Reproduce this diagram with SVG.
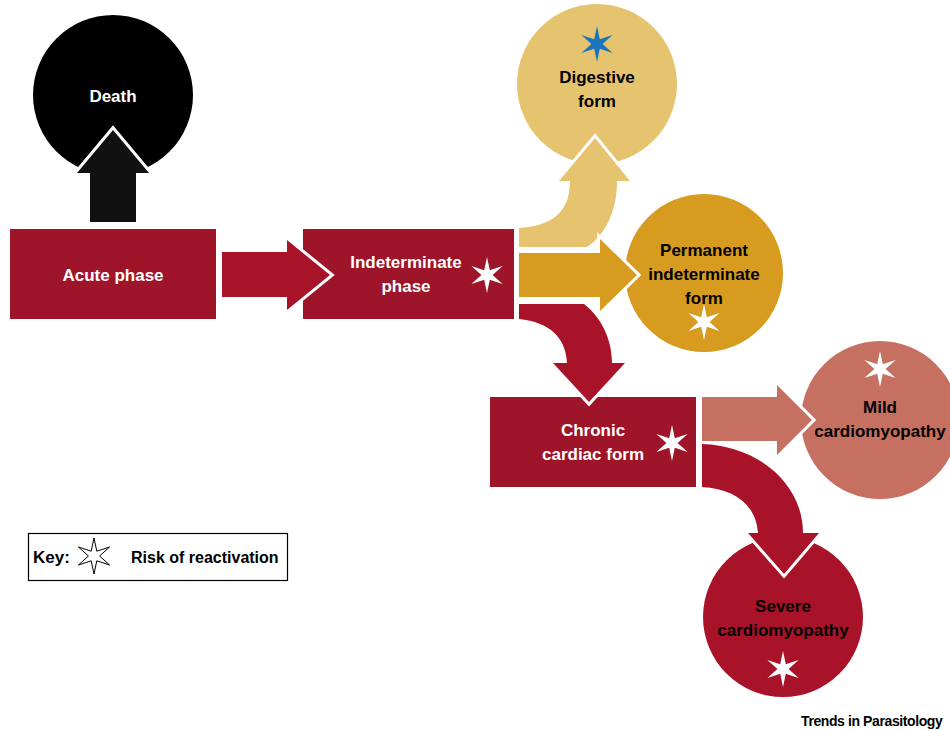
<svg xmlns="http://www.w3.org/2000/svg" width="950" height="730" viewBox="0 0 950 730">
  <defs>
    <style>
      .lbl { font-family: "Liberation Sans", Arial, sans-serif; font-weight: bold; font-size: 17px; text-anchor: middle; }
      .w { fill: #ffffff; }
      .k { fill: #000000; }
      .arrow { stroke: #ffffff; stroke-width: 6; stroke-linejoin: miter; paint-order: stroke; }
      .box { fill: #9E1428; }
    </style>
    <path id="star" d="M0,-18 L2.8,-4.8 L15.59,-9 L5.6,0 L15.59,9 L2.8,4.8 L0,18 L-2.8,4.8 L-15.59,9 L-5.6,0 L-15.59,-9 L-2.8,-4.8 Z"/>
  </defs>
  <rect width="950" height="730" fill="#ffffff"/>

  <g id="death">
    <circle cx="113" cy="95" r="80" fill="#000000"/>
    <text class="lbl w" x="113" y="102">Death</text>
  </g>

  <g id="acute">
    <rect class="box" x="10" y="229" width="206" height="90"/>
    <text class="lbl w" x="113" y="281">Acute phase</text>
  </g>

  <g id="indeterminate">
    <rect class="box" x="303" y="229" width="211" height="90"/>
    <text class="lbl w" x="406" y="268">Indeterminate</text>
    <text class="lbl w" x="406" y="292">phase</text>
    <use href="#star" x="487" y="275" fill="#ffffff"/>
  </g>

  <g id="digestive">
    <circle cx="597" cy="84" r="80" fill="#E6C36E"/>
    <use href="#star" x="597" y="44" fill="#1B75BC"/>
    <text class="lbl k" x="597" y="83">Digestive</text>
    <text class="lbl k" x="597" y="107">form</text>
  </g>

  <g id="permanent">
    <circle cx="704" cy="273" r="79" fill="#D69B1F"/>
    <text class="lbl k" x="704" y="256">Permanent</text>
    <text class="lbl k" x="704" y="280">indeterminate</text>
    <text class="lbl k" x="704" y="304">form</text>
    <use href="#star" x="704" y="322" fill="#ffffff"/>
  </g>

  <g id="chronic">
    <rect class="box" x="490" y="397" width="206" height="90"/>
    <text class="lbl w" x="593" y="436">Chronic</text>
    <text class="lbl w" x="593" y="460">cardiac form</text>
    <use href="#star" x="672" y="443" fill="#ffffff"/>
  </g>

  <g id="mild">
    <circle cx="880" cy="420" r="79" fill="#C67062"/>
    <use href="#star" x="880" y="369" fill="#ffffff"/>
    <text class="lbl k" x="880" y="413">Mild</text>
    <text class="lbl k" x="880" y="437">cardiomyopathy</text>
  </g>

  <g id="severe">
    <circle cx="783" cy="617" r="80" fill="#A91329"/>
    <text class="lbl k" x="783" y="612">Severe</text>
    <text class="lbl k" x="783" y="636">cardiomyopathy</text>
    <use href="#star" x="783" y="669" fill="#ffffff"/>
  </g>

  <g id="connectors">
    <path class="arrow" fill="#111111" d="M90,222 L90,173 L77,173 L113,130 L149,173 L136,173 L136,222 Z"/>
    <path class="arrow" fill="#A91329" d="M222,252 L287,252 L287,240 L330,275 L287,310 L287,297 L222,297 Z"/>
    <path class="arrow" fill="#E6C36E" d="M519,228 C550,226 570,214 570,181 L559,181 L595,138 L630,181 L617,181 C617,212 605,235 587,247 L519,247 Z"/>
    <path class="arrow" fill="#D69B1F" d="M519,253 L600,253 L600,239 L637,275 L600,311 L600,297 L519,297 Z"/>
    <path class="arrow" fill="#A91329" d="M519,304 L584,304 C602,318 612,340 612,363 L625,363 L589,402 L553,363 L567,363 C566,338 550,322 519,319 Z"/>
    <path class="arrow" fill="#C67062" d="M702,397 L777,397 L777,385 L812,420 L777,455 L777,441 L702,441 Z"/>
    <path class="arrow" fill="#A91329" d="M702,444 C760,446 803,485 803,533 L819,533 L784,574 L748,533 L758,533 C756,505 735,489 702,487 Z"/>
  </g>

  <g id="key">
    <rect x="28.5" y="533.5" width="259" height="47" fill="#ffffff" stroke="#000000" stroke-width="1.2"/>
    <text x="33" y="563" style="font-family: 'Liberation Sans', Arial, sans-serif; font-weight: bold; font-size: 17px;" fill="#000000">Key:</text>
    <use href="#star" x="94" y="556" fill="#ffffff" stroke="#000000" stroke-width="1"/>
    <text x="131" y="563" style="font-family: 'Liberation Sans', Arial, sans-serif; font-weight: bold; font-size: 16px;" fill="#000000">Risk of reactivation</text>
  </g>

  <text x="801" y="726" style="font-family: 'Liberation Sans', Arial, sans-serif; font-weight: bold; font-size: 14px; letter-spacing: -0.4px;" fill="#000000">Trends in Parasitology</text>
</svg>
